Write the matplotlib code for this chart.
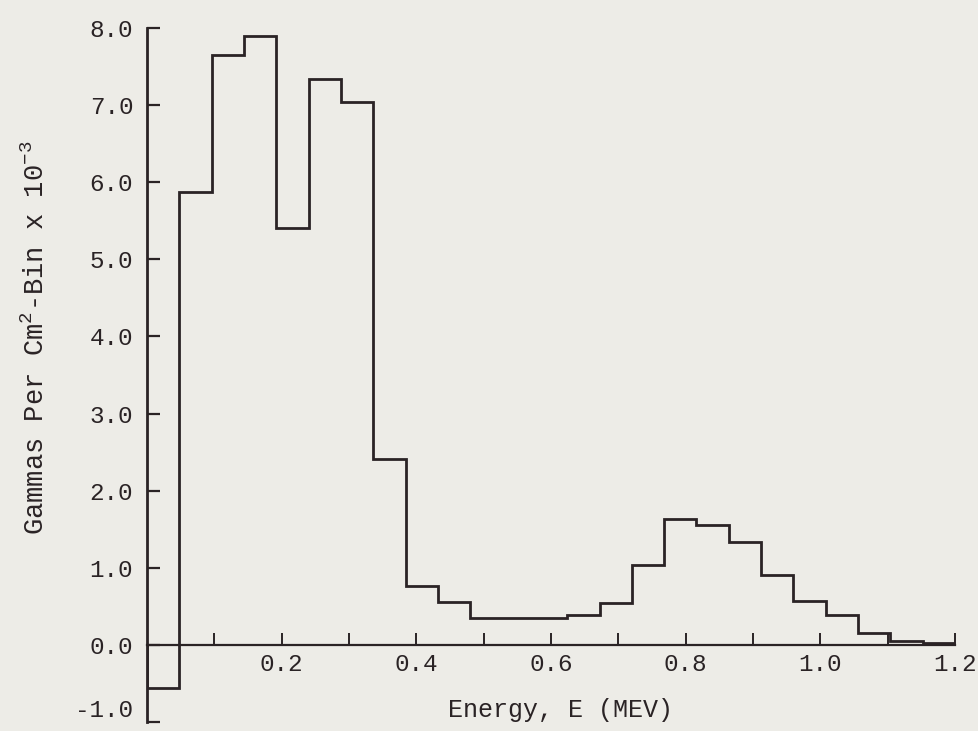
import numpy as np
import matplotlib
matplotlib.use("Agg")
import matplotlib.pyplot as plt
import matplotlib.transforms as mtransforms

# Bin edges (MeV) and gammas per cm^2-bin (x 10^-3)
edges = [0.0, 0.048, 0.096, 0.144, 0.192, 0.240, 0.288, 0.336, 0.384, 0.432,
         0.480, 0.528, 0.576, 0.624, 0.672, 0.720, 0.768, 0.816, 0.864, 0.912,
         0.960, 1.008, 1.056, 1.104, 1.152, 1.200]
counts = [-0.56, 5.87, 7.65, 7.90, 5.40, 7.34, 7.04, 2.41, 0.76, 0.56,
          0.35, 0.35, 0.35, 0.39, 0.54, 1.04, 1.63, 1.56, 1.34, 0.91,
          0.575, 0.39, 0.15, 0.05, 0.02]

x_major = [0.2, 0.4, 0.6, 0.8, 1.0, 1.2]
x_minor = [0.1, 0.3, 0.5, 0.7, 0.9, 1.1]
y_ticks = [-1, 0, 1, 2, 3, 4, 5, 6, 7, 8]

bg = "#edece7"
ink = "#2a2325"

plt.rcParams["font.family"] = ["Liberation Mono", "DejaVu Sans Mono"]
plt.rcParams["mathtext.fontset"] = "custom"
plt.rcParams["mathtext.rm"] = "Liberation Mono"
plt.rcParams["mathtext.it"] = "Liberation Mono"

fig = plt.figure(figsize=(9.79, 7.31), dpi=100, facecolor=bg)
ax = fig.add_axes([0.1502, 0.0123, 0.8253, 0.9494])
ax.set_facecolor(bg)

ax.stairs(counts, edges, color=ink, linewidth=2.0, baseline=0)

ax.set_xlim(0, 1.2)
ax.set_ylim(-1, 8)

for s in ["top", "right"]:
    ax.spines[s].set_visible(False)
ax.spines["bottom"].set_position(("data", 0))
ax.spines["bottom"].set_color(ink)
ax.spines["left"].set_color(ink)
ax.spines["bottom"].set_linewidth(1.6)
ax.spines["left"].set_linewidth(2.0)

ax.set_xticks(x_major)
ax.set_xticklabels(["%.1f" % v for v in x_major])
ax.set_xticks(x_minor, minor=True)
ax.set_yticks(y_ticks)
ax.set_yticklabels(["%.1f" % v for v in y_ticks])

ax.tick_params(axis="x", which="both", direction="in", length=8.5, width=1.4,
               color=ink, labelcolor=ink, labelsize=17.5, pad=6)
ax.tick_params(axis="y", direction="in", length=9.5, width=1.6,
               color=ink, labelcolor=ink, labelsize=17.5, pad=10)

# typed label for -1.0 sits a little higher than its tick
lab = ax.get_yticklabels()[0]
lab.set_transform(lab.get_transform() +
                  mtransforms.ScaledTranslation(0, 14 / 100, fig.dpi_scale_trans))

fig.text(561 / 979, 1 - 710 / 731, "Energy, E (MEV)", ha="center", va="center",
         fontsize=18, color=ink)
fig.text(36 / 979, 1 - 338 / 731, r"Gammas Per Cm$^{2}$-Bin x 10$^{-3}$",
         rotation=90, ha="center", va="center", fontsize=19.5, color=ink)

fig.savefig("out.png", dpi=100, facecolor=bg)
